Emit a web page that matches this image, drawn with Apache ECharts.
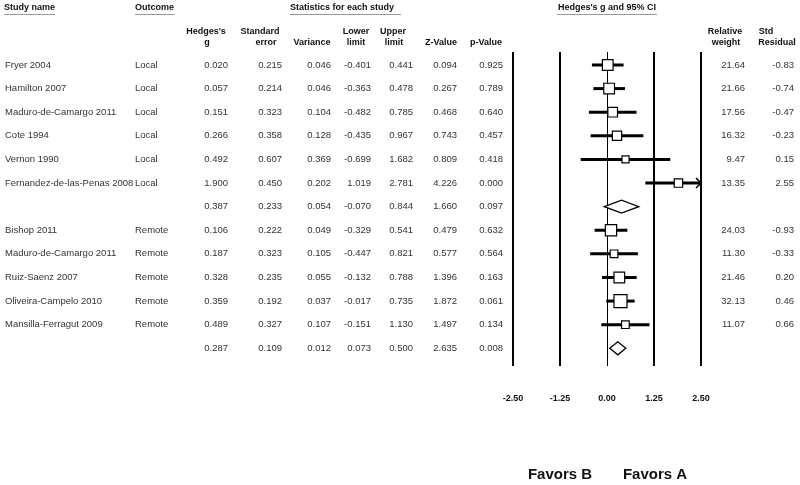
<!DOCTYPE html>
<html>
<head>
<meta charset="utf-8">
<script src="https://cdn.jsdelivr.net/npm/echarts@6/dist/echarts.min.js"></script>
<style>
  html, body { margin: 0; padding: 0; background: #fff; }
  #forest { width: 800px; height: 485px; }
</style>
</head>
<body>
<div id="forest"></div>
<script>
// rows, top to bottom; '' = subgroup summary row
const studyNames = ['Fryer 2004', 'Hamilton 2007', 'Maduro-de-Camargo 2011', 'Cote 1994', 'Vernon 1990',
  'Fernandez-de-las-Penas 2008', '', 'Bishop 2011', 'Maduro-de-Camargo 2011', 'Ruiz-Saenz 2007',
  'Oliveira-Campelo 2010', 'Mansilla-Ferragut 2009', '']
const outcomes = ['Local', 'Local', 'Local', 'Local', 'Local', 'Local', '',
  'Remote', 'Remote', 'Remote', 'Remote', 'Remote', '']
const isSummary = [false, false, false, false, false, false, true, false, false, false, false, false, true]

const hedgesG = [0.020, 0.057, 0.151, 0.266, 0.492, 1.900, 0.387, 0.106, 0.187, 0.328, 0.359, 0.489, 0.287]
const stdError = [0.215, 0.214, 0.323, 0.358, 0.607, 0.450, 0.233, 0.222, 0.323, 0.235, 0.192, 0.327, 0.109]
const variance = [0.046, 0.046, 0.104, 0.128, 0.369, 0.202, 0.054, 0.049, 0.105, 0.055, 0.037, 0.107, 0.012]
const lowerLimit = [-0.401, -0.363, -0.482, -0.435, -0.699, 1.019, -0.070, -0.329, -0.447, -0.132, -0.017, -0.151, 0.073]
const upperLimit = [0.441, 0.478, 0.785, 0.967, 1.682, 2.781, 0.844, 0.541, 0.821, 0.788, 0.735, 1.130, 0.500]
const zValue = [0.094, 0.267, 0.468, 0.743, 0.809, 4.226, 1.660, 0.479, 0.577, 1.396, 1.872, 1.497, 2.635]
const pValue = [0.925, 0.789, 0.640, 0.457, 0.418, 0.000, 0.097, 0.632, 0.564, 0.163, 0.061, 0.134, 0.008]
const relWeight = [21.64, 21.66, 17.56, 16.32, 9.47, 13.35, null, 24.03, 11.30, 21.46, 32.13, 11.07, null]
const stdResidual = [-0.83, -0.74, -0.47, -0.23, 0.15, 2.55, null, -0.93, -0.33, 0.20, 0.46, 0.66, null]

const xTicks = [-2.5, -1.25, 0, 1.25, 2.5]
const xMin = -2.5, xMax = 2.5

const FONT = '9.5px "Liberation Sans", Arial, sans-serif'
const HFONT = 'bold 9px "Liberation Sans", Arial, sans-serif'

// right edges of numeric columns (pixels)
const columns = [
  { data: hedgesG, x: 228, dp: 3 },
  { data: stdError, x: 282, dp: 3 },
  { data: variance, x: 331, dp: 3 },
  { data: lowerLimit, x: 371, dp: 3 },
  { data: upperLimit, x: 413, dp: 3 },
  { data: zValue, x: 457, dp: 3 },
  { data: pValue, x: 503, dp: 3 },
  { data: relWeight, x: 745, dp: 2 },
  { data: stdResidual, x: 794, dp: 2 }
]

function txt(s, x, y, align, font) {
  return {
    type: 'text',
    style: { text: s, x: x, y: y, textAlign: align, textVerticalAlign: 'middle', font: font || FONT, fill: '#333' }
  }
}

function renderTable(params, api) {
  const r = api.value(0)
  const y = api.coord([0, r])[1]
  const children = [txt(studyNames[r], 5, y, 'left'), txt(outcomes[r], 135, y, 'left')]
  columns.forEach(c => {
    const v = c.data[r]
    if (v !== null && v !== undefined) children.push(txt(v.toFixed(c.dp), c.x, y, 'right'))
  })
  return { type: 'group', children: children }
}

function renderForest(params, api) {
  const r = api.value(0)
  const g = api.value(1), lo = api.value(2), hi = api.value(3)
  const c = api.coord([g, r])
  const y = c[1]
  if (isSummary[r]) {
    const pl = api.coord([lo, r]), pr = api.coord([hi, r])
    const h = 6.5
    return {
      type: 'polygon',
      shape: { points: [[pl[0], y], [c[0], y - h], [pr[0], y], [c[0], y + h]] },
      style: { fill: '#fff', stroke: '#000', lineWidth: 1.3 }
    }
  }
  const x1 = api.coord([Math.max(lo, xMin), r])[0]
  const x2 = api.coord([Math.min(hi, xMax), r])[0]
  const children = [{
    type: 'line',
    shape: { x1: x1, y1: y, x2: x2, y2: y },
    style: { stroke: '#000', lineWidth: 3 }
  }]
  if (hi > xMax) {
    children.push({
      type: 'polyline',
      shape: { points: [[x2 - 5, y - 5], [x2, y], [x2 - 5, y + 5]] },
      style: { stroke: '#000', lineWidth: 1.5, fill: null }
    })
  }
  const s = 2.3 * Math.sqrt(relWeight[r])
  children.push({
    type: 'rect',
    shape: { x: c[0] - s / 2, y: y - s / 2, width: s, height: s },
    style: { fill: '#fff', stroke: '#000', lineWidth: 1.2 }
  })
  return { type: 'group', children: children }
}

const headers = [
  ['Hedges\'s', 206, 32], ['g', 207, 43],
  ['Standard', 260, 32], ['error', 266, 43],
  ['Variance', 312, 43],
  ['Lower', 356, 32], ['limit', 356, 43],
  ['Upper', 393, 32], ['limit', 394, 43],
  ['Z-Value', 441, 43],
  ['p-Value', 486, 43],
  ['Relative', 725, 32], ['weight', 726, 43],
  ['Std', 766, 32], ['Residual', 777, 43]
]
const topHeaders = [
  ['Study name', 4, 'left', 4, 55],
  ['Outcome', 135, 'left', 135, 175],
  ['Statistics for each study', 290, 'left', 290, 401],
  ['Hedges\'s g and 95% CI', 607, 'center', 557, 657]
]

const graphics = []
headers.forEach(h => graphics.push({
  type: 'text', silent: true,
  style: { text: h[0], x: h[1], y: h[2], textAlign: 'center', textVerticalAlign: 'middle', font: HFONT, fill: '#111' }
}))
topHeaders.forEach(h => {
  graphics.push({
    type: 'text', silent: true,
    style: { text: h[0], x: h[1], y: 8, textAlign: h[2], textVerticalAlign: 'middle', font: HFONT, fill: '#111' }
  })
  graphics.push({
    type: 'line', silent: true,
    shape: { x1: h[3], y1: 14.5, x2: h[4], y2: 14.5 },
    style: { stroke: '#999', lineWidth: 1 }
  })
})
graphics.push({
  type: 'text', silent: true,
  style: { text: 'Favors B', x: 560, y: 475, textAlign: 'center', textVerticalAlign: 'middle', font: 'bold 15px "Liberation Sans", Arial, sans-serif', fill: '#111' }
})
graphics.push({
  type: 'text', silent: true,
  style: { text: 'Favors A', x: 655, y: 475, textAlign: 'center', textVerticalAlign: 'middle', font: 'bold 15px "Liberation Sans", Arial, sans-serif', fill: '#111' }
})

const forestData = hedgesG.map((g, i) => [i, g, lowerLimit[i], upperLimit[i]])
const tableData = studyNames.map((_, i) => [i])

const chart = echarts.init(document.getElementById('forest'), null, { renderer: 'canvas' })
chart.setOption({
  animation: false,
  backgroundColor: '#fff',
  grid: { left: 513, width: 188, top: 52, height: 314 },
  xAxis: {
    type: 'value', min: xMin, max: xMax, interval: 1.25,
    axisLine: { show: false }, axisTick: { show: false }, splitLine: { show: false },
    axisLabel: {
      margin: 28, formatter: v => v.toFixed(2),
      fontFamily: '"Liberation Sans", Arial, sans-serif', fontWeight: 'bold', fontSize: 9, color: '#111'
    }
  },
  yAxis: {
    type: 'value', min: -0.55, max: 12.75, inverse: true, show: false
  },
  graphic: graphics,
  series: [
    {
      type: 'custom', name: 'table', clip: false, silent: true, z: 1,
      renderItem: renderTable, data: tableData,
      markLine: {
        silent: true, symbol: 'none', label: { show: false },
        data: xTicks.map(v => ({ xAxis: v, lineStyle: { color: '#000', type: 'solid', width: v === 0 ? 1 : 2 } }))
      }
    },
    {
      type: 'custom', name: 'forest', silent: true, z: 5,
      renderItem: renderForest, data: forestData
    }
  ]
})
</script>
</body>
</html>
